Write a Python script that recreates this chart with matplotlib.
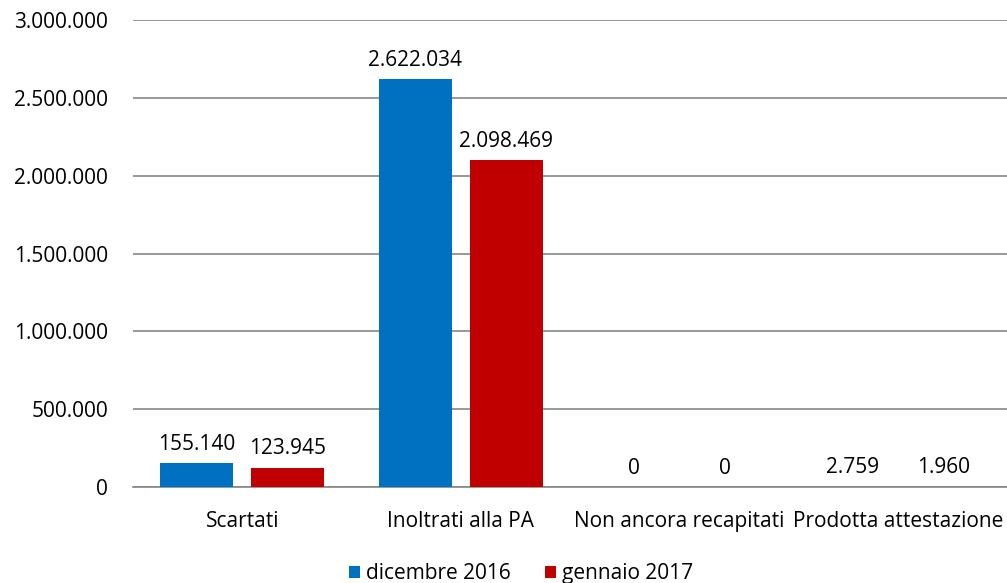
import numpy as np
import matplotlib.pyplot as plt
from matplotlib.ticker import FuncFormatter

plt.rcParams['font.family'] = ['Open Sans', 'DejaVu Sans']

categories = ['Scartati', 'Inoltrati alla PA', 'Non ancora recapitati', 'Prodotta attestazione']
dic_2016 = [155140, 2622034, 0, 2759]
gen_2017 = [123945, 2098469, 0, 1960]
series_names = ['dicembre 2016', 'gennaio 2017']
colors = ['#0070C0', '#C00000']


def it_fmt(v):
    return f'{int(round(v)):,}'.replace(',', '.')


fig = plt.figure(figsize=(10.07, 5.83), dpi=100)
ax = fig.add_axes([133 / 1007, 1 - 487 / 583, 874 / 1007, 467 / 583])

fs = 15
x = np.arange(len(categories))
w = 0.334
off = 0.208
b1 = ax.bar(x - off, dic_2016, w, color=colors[0], label=series_names[0], zorder=3)
b2 = ax.bar(x + off, gen_2017, w, color=colors[1], label=series_names[1], zorder=3)

for bars, vals in ((b1, dic_2016), (b2, gen_2017)):
    for rect, v in zip(bars, vals):
        ax.annotate(it_fmt(v), (rect.get_x() + rect.get_width() / 2, v),
                    xytext=(0, 6), textcoords='offset points',
                    ha='center', va='bottom', fontsize=fs, color='#000000')

ax.set_xlim(-0.5, len(categories) - 0.5)
ax.set_ylim(0, 3000000)
ax.set_yticks(np.arange(0, 3000001, 500000))
ax.yaxis.set_major_formatter(FuncFormatter(lambda v, p: it_fmt(v)))
ax.set_xticks(x)
ax.set_xticklabels(categories)
ax.tick_params(axis='both', length=0, labelsize=fs, colors='#000000')
ax.tick_params(axis='y', pad=18)
ax.tick_params(axis='x', pad=17)
ax.grid(axis='y', color='#868686', linewidth=1.2, zorder=0)
for s in ['top', 'right', 'left']:
    ax.spines[s].set_visible(False)
ax.spines['bottom'].set_color('#868686')
ax.spines['bottom'].set_linewidth(1.2)

ax.legend(loc='upper center', bbox_to_anchor=(0.444, -0.137), ncol=2,
          frameon=False, fontsize=fs, handlelength=0.55, handleheight=0.55,
          handletextpad=0.3, columnspacing=1.6, borderaxespad=0.2)

fig.savefig('out.png', dpi=100)
